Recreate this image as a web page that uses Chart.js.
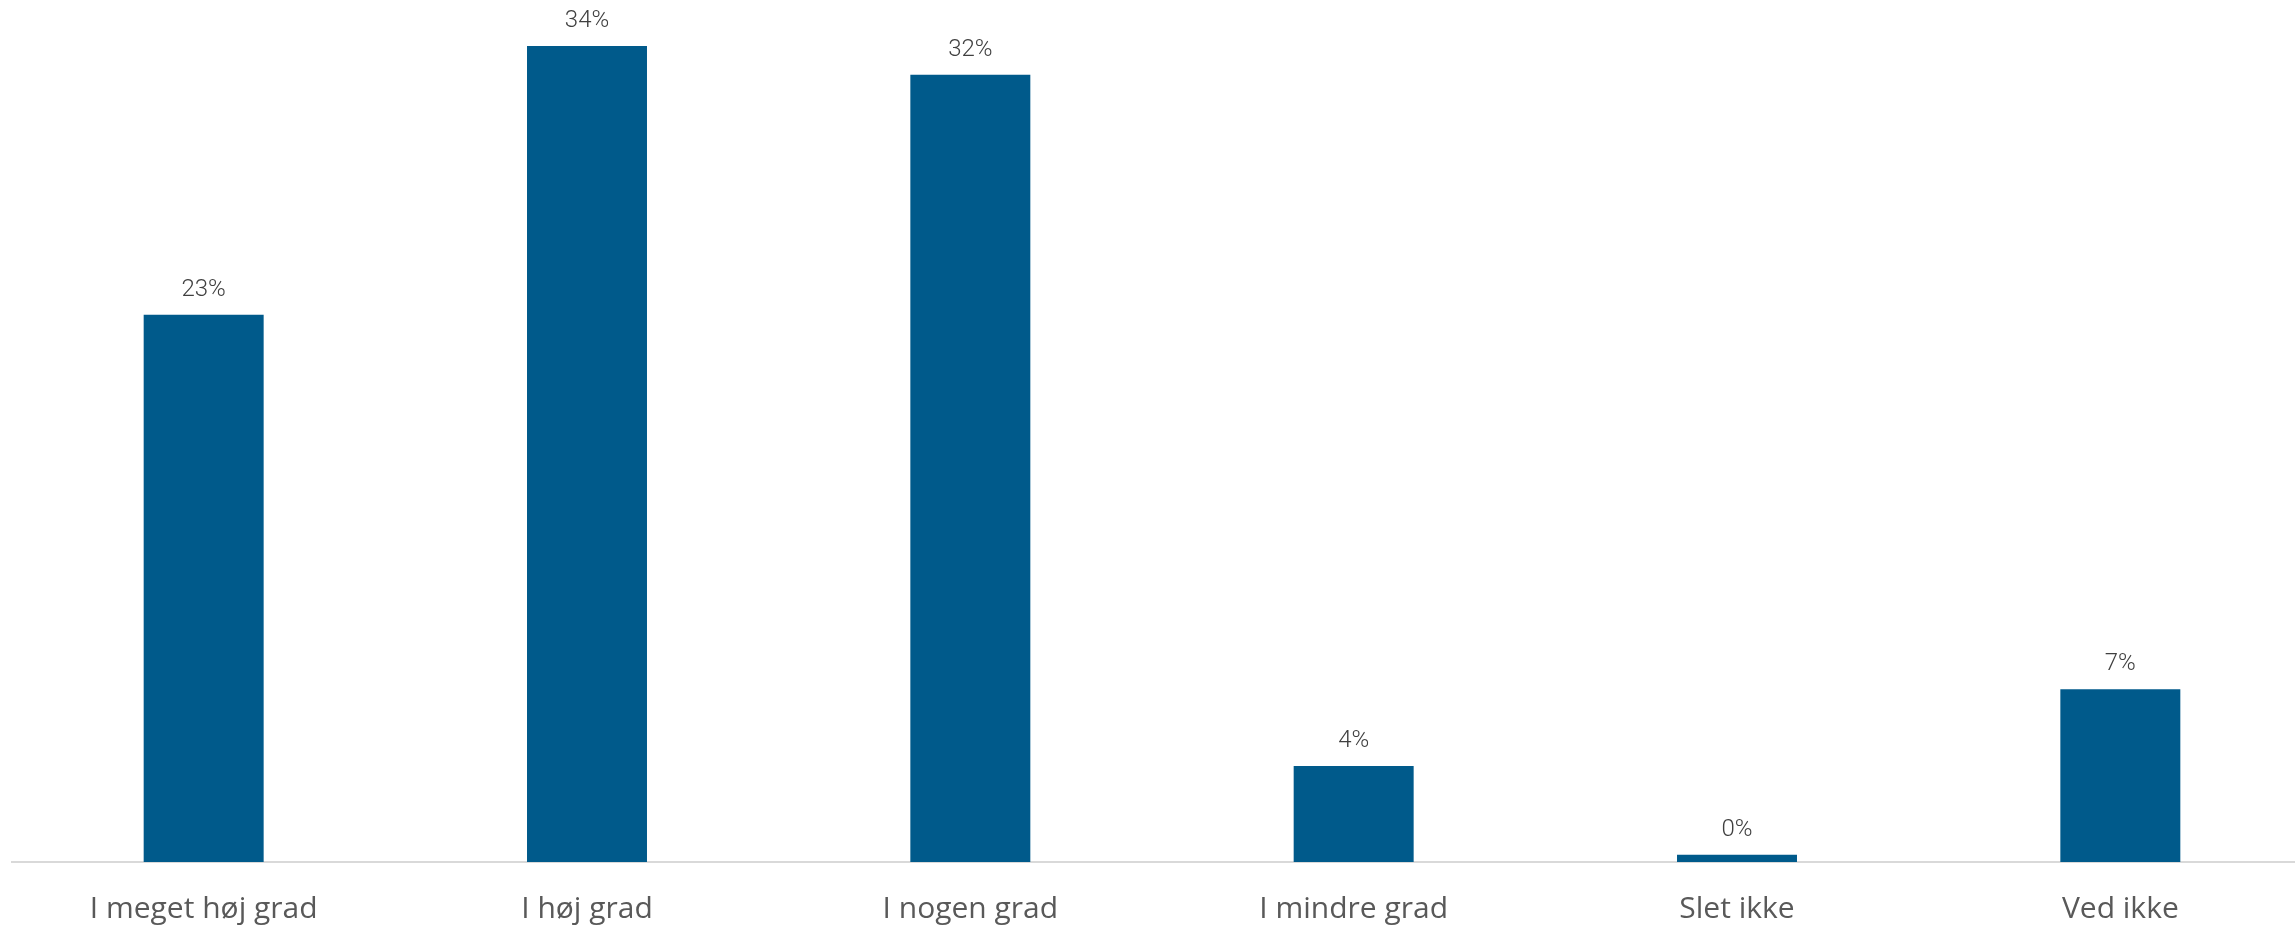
<!DOCTYPE html>
<html>
<head>
<meta charset="utf-8">
<script src="https://cdn.jsdelivr.net/npm/chart.js@4/dist/chart.umd.min.js"></script>
<style>
  html, body { margin: 0; padding: 0; background: #fff; overflow: hidden; }
  #wrap { width: 2312px; height: 926px; }
</style>
</head>
<body>
<div id="wrap"><canvas id="myChart"></canvas></div>
<script>
// svar-kategorier og andele (%)
const categories = ['I meget høj grad', 'I høj grad', 'I nogen grad', 'I mindre grad', 'Slet ikke', 'Ved ikke'];
const shares = [22.8, 34.0, 32.8, 4.0, 0.3, 7.2];
const shareLabels = ['23%', '34%', '32%', '4%', '0%', '7%'];

// tegner procent-teksten over hver søjle
const valueLabels = {
    id: 'valueLabels',
    afterDatasetsDraw(chart) {
        const ctx = chart.ctx;
        const meta = chart.getDatasetMeta(0);
        ctx.save();
        ctx.font = '300 24px Roboto';
        ctx.fillStyle = '#404040';
        ctx.textAlign = 'center';
        ctx.textBaseline = 'bottom';
        meta.data.forEach((bar, i) => {
            ctx.fillText(shareLabels[i], bar.x, bar.y - 13);
        });
        ctx.restore();
    }
};

var ctx = document.getElementById('myChart').getContext('2d');
var chart = new Chart(ctx, {
    type: 'bar',
    data: {
        labels: categories,
        datasets: [{
            data: shares,
            backgroundColor: '#005a8b',
            categoryPercentage: 1,
            barPercentage: 0.313
        }]
    },
    options: {
        responsive: true,
        maintainAspectRatio: false,
        animation: false,
        layout: { padding: { top: 22, left: 12, right: 0, bottom: 0 } },
        plugins: {
            legend: { display: false },
            tooltip: { enabled: false }
        },
        scales: {
            x: {
                grid: { display: false },
                border: { color: '#d9d9d9', width: 2 },
                ticks: {
                    color: '#595959',
                    font: { family: 'Open Sans', size: 30 },
                    padding: 21
                },
                afterFit(scale) { scale.height = 64; }
            },
            y: {
                display: false,
                min: 0,
                max: 35
            }
        }
    },
    plugins: [valueLabels]
});
</script>
</body>
</html>
